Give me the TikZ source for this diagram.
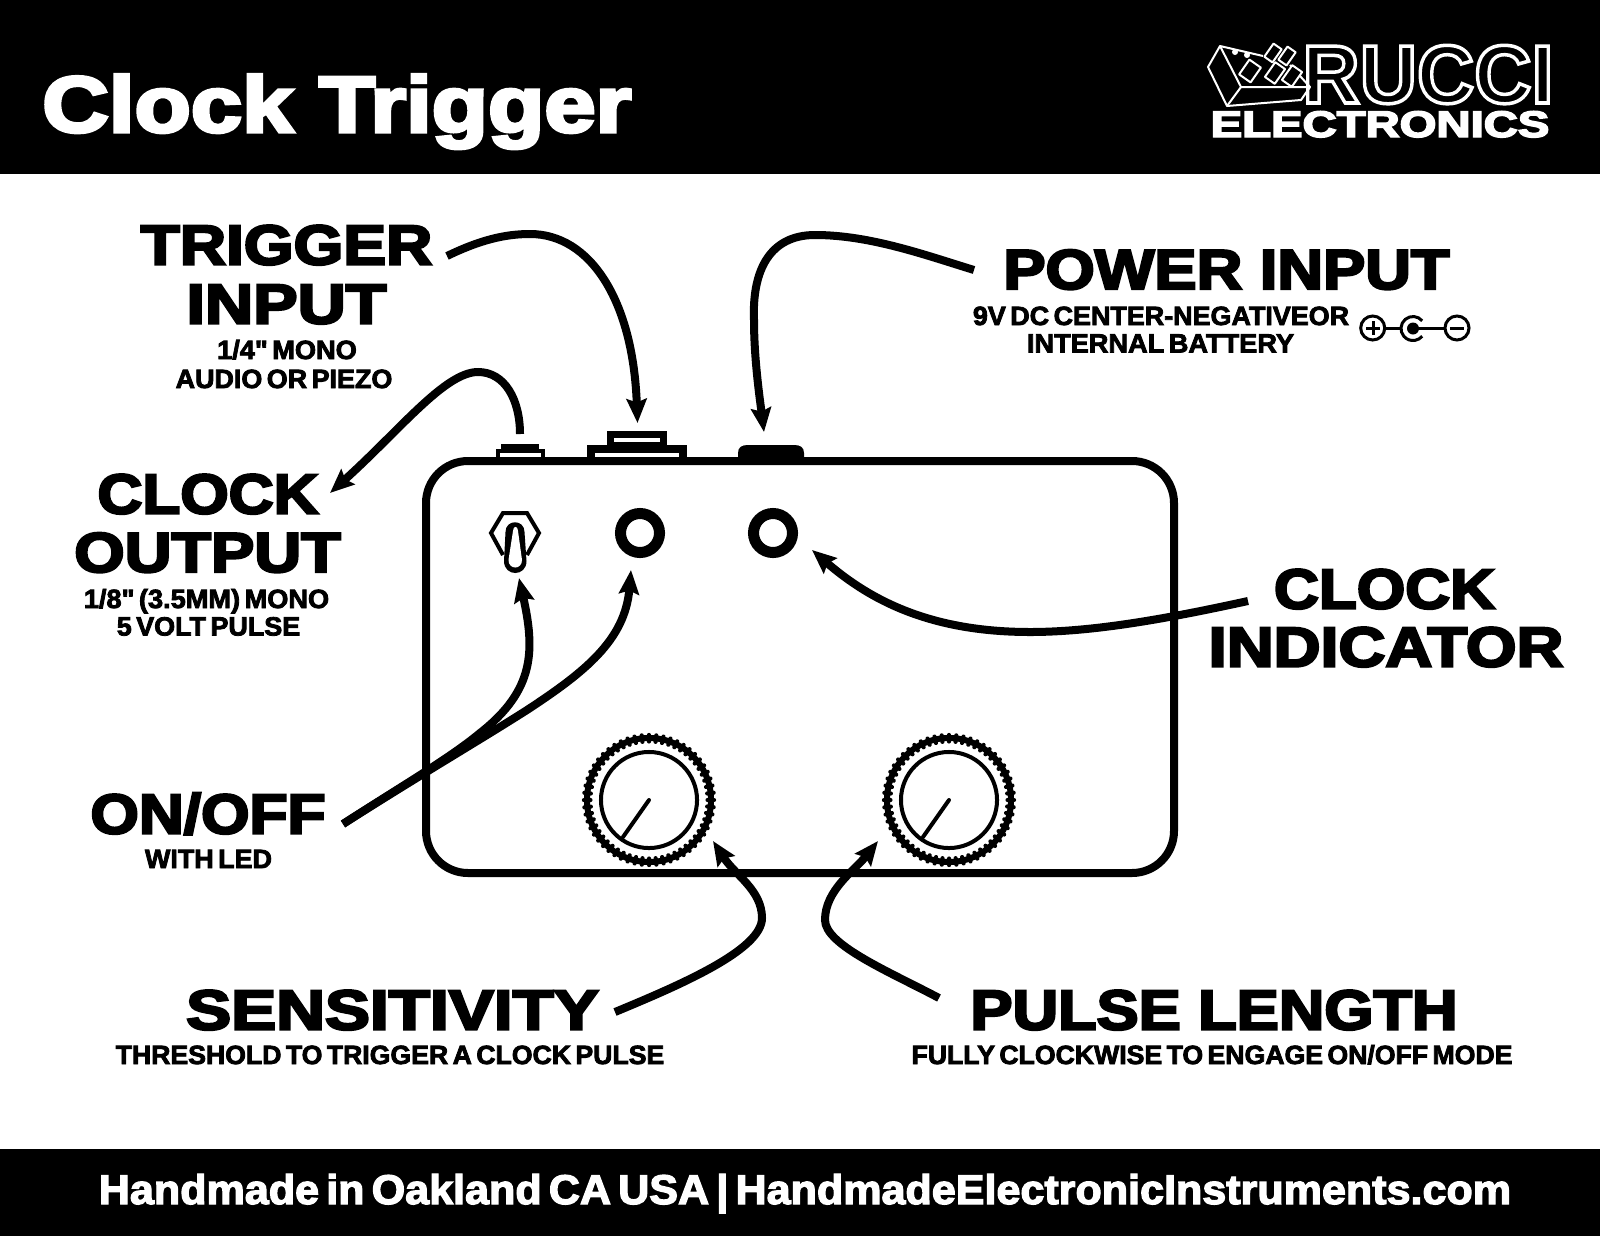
\documentclass[tikz,border=0pt]{standalone}
\usepackage{fontspec}
\usetikzlibrary{arrows.meta}
\newfontfamily\heavyfont[FakeBold=4]{Liberation Sans Bold}
\newfontfamily\tightfont[FakeBold=3,WordSpace=0.6]{Liberation Sans Bold}

\tikzset{
  headlbl/.style={anchor=base,inner sep=0,yshift=0.015cm,font=\heavyfont\fontsize{16}{17}\selectfont},
  sublbl/.style={anchor=base,inner sep=0,font=\tightfont\fontsize{7.5}{8}\selectfont},
  callout/.style={line width=0.08cm,-{Stealth[length=0.24cm,width=0.2cm,inset=0.035cm]}},
  panel/.style={line width=0.08cm,rounded corners=0.42cm},
  knobring/.style={line width=0.04cm},
  logoline/.style={white,line width=0.02cm,line join=round},
}

\begin{document}
\begin{tikzpicture}[x=0.01cm,y=-0.01cm]
  \useasboundingbox (0,0) rectangle (1600,1236);

  % bands
  \fill[black] (0,0) rectangle (1600,174);
  \fill[black] (0,1149) rectangle (1600,1236);
  \node[white,anchor=base west,inner sep=0,xscale=1.16,font=\heavyfont\fontsize{22.6}{24}\selectfont] (title) at (41.5,132) {Clock Trigger};
  \node[white,anchor=base,inner sep=0,xscale=1.038,font=\tightfont\fontsize{11.8}{13}\selectfont] (footer) at (805,1204) {Handmade in Oakland CA USA | HandmadeElectronicInstruments.com};

  % logo
  \draw[logoline] (1263,56) -- (1220,46) -- (1208,67) -- (1227,106) -- (1301,100) -- (1310,87) -- (1241,87) -- (1220,46);
  \draw[logoline] (1241,87) -- (1227,106);
  \draw[logoline] (1290,65) -- (1310,87);
  \fill[white] (1235,52) circle (0.03cm) (1247,55) circle (0.03cm);
  \foreach \cx/\cy/\cw/\ch in {1250/71/7/9,1273/53/5/8,1287/56/5/8,1275/73/6/9,1292/76/6/9}
    \draw[logoline,fill=black,rotate around={-35:(\cx,\cy)}] (\cx-\cw,\cy-\ch) rectangle (\cx+\cw,\cy+\ch);
  \node[anchor=base,inner sep=0,xscale=0.96,font=\fontspec{Liberation Sans Bold}\fontsize{23.5}{24}\selectfont] (rucci) at (1428,103)
    {\special{pdf:code q 1 Tr 1 w 1 1 1 RG}RUCCI\special{pdf:code Q}};
  \node[white,anchor=base,inner sep=0,xscale=1.28,font=\heavyfont\fontsize{10.5}{11}\selectfont] (electronics) at (1380,137) {ELECTRONICS};

  % jacks on the top edge
  \fill (501,444) rectangle (539,450);
  \draw[line width=0.04cm,fill=white] (498,451) rectangle (543,461);
  \draw[line width=0.08cm,fill=white] (591,449) rectangle (683,461);
  \draw[line width=0.067cm,fill=white] (610.5,434.5) rectangle (663.5,445);
  \fill (738,461) -- (738,453) .. controls (738,447) and (742,445) .. (748,445) -- (794,445)
    .. controls (800,445) and (804,447) .. (804,453) -- (804,461) -- cycle;

  \draw[panel] (426,461) rectangle (1174,873);

  % toggle
  \draw[line width=0.04cm] (503,555) -- (491,533) -- (503,513) -- (527,513) -- (539,533) -- (527,555);
  \fill (505.5,532) .. controls (505.5,519) and (524.5,519) .. (524.5,532) -- (526.5,561)
    .. controls (526.5,577) and (504,577) .. (504,561) -- cycle;
  \fill[white] (513,531) .. controls (513,525.5) and (518,525.5) .. (518,531) -- (522,560)
    .. controls (522,570) and (508.5,570) .. (508.5,560) -- cycle;

  % leds
  \foreach \cx in {640,773}
    \draw[line width=0.11cm] (\cx,533) circle (0.195cm);

  % knobs
  \foreach \cx in {649,949} {
    \draw[knobring] (\cx,800) circle (0.48cm);
    \draw[line width=0.06cm] (\cx,800) circle (0.62cm);
    \foreach \a in {0,6.43,...,359}
      \draw[line width=0.042cm,line cap=round] (\cx,800) ++(\a:0.585cm) -- ++(\a:0.065cm);
    \draw[knobring,line cap=round] (\cx,800) -- (\cx-26,837);
  }

  % labels
  \node[headlbl,xscale=1.137] (trigger) at (286.5,266) {TRIGGER};
  \node[headlbl,xscale=1.184] (input) at (286.5,325) {INPUT};
  \node[sublbl,xscale=1.03] (mono) at (287,359) {1/4" MONO};
  \node[sublbl,xscale=1.02] (piezo) at (284,388) {AUDIO OR PIEZO};

  \node[headlbl,xscale=1.105] (clock) at (208,515) {CLOCK};
  \node[headlbl,xscale=1.152] (output) at (207.5,573.5) {OUTPUT};
  \node[sublbl,xscale=1.03] (mini) at (206.5,608) {1/8" (3.5MM) MONO};
  \node[sublbl,xscale=1.02] (volt) at (208.5,635.5) {5 VOLT PULSE};

  \node[headlbl,xscale=1.124] (power) at (1226.5,290.5) {POWER INPUT};
  \node[sublbl,xscale=1.02] (nine) at (1161,325) {9V DC CENTER-NEGATIVEOR};
  \node[sublbl,xscale=1.03] (battery) at (1160.5,352.5) {INTERNAL BATTERY};

  \node[headlbl,xscale=1.105] (clockind) at (1384.5,610) {CLOCK};
  \node[headlbl,xscale=1.154] (indicator) at (1386,668) {INDICATOR};

  \node[headlbl,xscale=1.106] (onoff) at (208,835) {ON/OFF};
  \node[sublbl,xscale=1.02] (withled) at (208.5,868) {WITH LED};

  \node[headlbl,xscale=1.2] (sens) at (392.5,1031) {SENSITIVITY};
  \node[sublbl,xscale=1.01] (thresh) at (390,1064) {THRESHOLD TO TRIGGER A CLOCK PULSE};

  \node[headlbl,xscale=1.121] (pulse) at (1214,1031) {PULSE LENGTH};
  \node[sublbl,xscale=1.01] (fully) at (1212,1064) {FULLY CLOCKWISE TO ENGAGE ON/OFF MODE};

  % plug polarity
  \draw[line width=0.03cm] (1372.7,328) circle (0.12cm) (1457,328) circle (0.12cm);
  \draw[line width=0.03cm] (1366,328) -- (1380,328) (1373,321) -- (1373,335) (1450,328) -- (1464,328);
  \draw[line width=0.03cm] (1385,328.5) -- (1402,328.5) (1413,328.5) -- (1445,328.5);
  \fill (1413,328.5) circle (0.06cm);
  \draw[line width=0.03cm] (1422.2,320.8) arc[start angle=40,end angle=320,radius=0.12cm];

  % callout ends
  \coordinate (trigfrom) at (447,256);
  \coordinate (trigto) at (637.5,423);
  \coordinate (outfrom) at (520,434);
  \coordinate (outto) at (330,493);
  \coordinate (powfrom) at (974,270);
  \coordinate (powto) at (764,432);
  \coordinate (indfrom) at (1248,601);
  \coordinate (indto) at (812,550);
  \coordinate (offfrom) at (343,824);
  \coordinate (toggleto) at (519,578);
  \coordinate (ledto) at (631,570);
  \coordinate (sensfrom) at (615,1012);
  \coordinate (sensto) at (713,841);
  \coordinate (pulsefrom) at (939,998);
  \coordinate (pulseto) at (878,841);

  \draw[callout] (trigfrom) .. controls (480,240) and (505,234) .. (530,234) .. controls (590,234) and (633,300) .. (trigto);
  \draw[callout] (outfrom) .. controls (520,400) and (505,372) .. (478,372) .. controls (445,372) and (400,430) .. (outto);
  \draw[callout] (powfrom) .. controls (925,255) and (870,235) .. (815,235) .. controls (770,235) and (752,270) .. (754,320)
    .. controls (754,360) and (760,400) .. (powto);
  \draw[callout] (indfrom) .. controls (1170,618) and (1095,632) .. (1030,632) .. controls (930,632) and (870,600) .. (indto);
  \draw[callout] (offfrom) .. controls (400,787) and (450,758) .. (480,733) .. controls (535,690) and (535,650) .. (toggleto);
  \draw[callout] (offfrom) .. controls (420,775) and (480,740) .. (527,710) .. controls (585,672) and (625,640) .. (ledto);
  \draw[callout] (sensfrom) .. controls (680,985) and (762,950) .. (762,918) .. controls (762,890) and (735,875) .. (sensto);
  \draw[callout] (pulsefrom) .. controls (890,972) and (825,945) .. (825,920) .. controls (825,890) and (855,870) .. (pulseto);

\end{tikzpicture}
\end{document}
